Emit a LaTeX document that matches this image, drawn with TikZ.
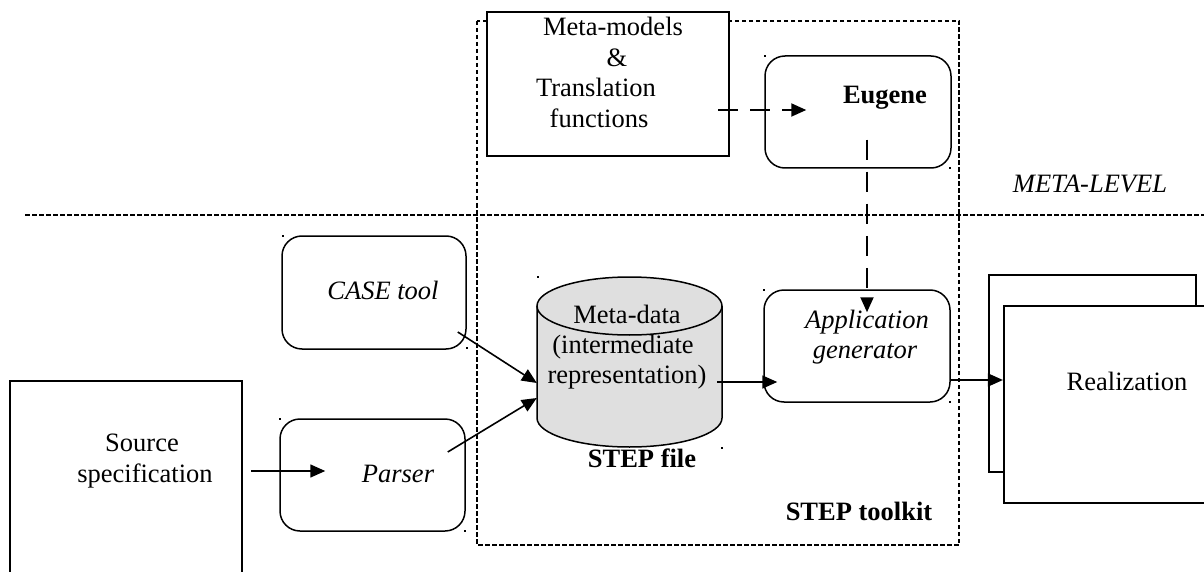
\documentclass[tikz,border=0pt]{standalone}
\usepackage{fontspec}
\setmainfont{Liberation Serif}
\usetikzlibrary{arrows.meta,calc}
\begin{document}
\begin{tikzpicture}[x=1pt,y=-1pt,
  txt/.style={font=\fontsize{26.5}{31}\selectfont, inner sep=0pt, anchor=base},
  sqbox/.style={draw, line width=2.4pt, minimum width=#1, inner sep=0pt},
  rbox/.style={draw, line width=1.5pt, rounded corners=20pt, inner sep=0pt},
  arr/.style={line width=1.6pt, -{Triangle[length=15pt,width=13pt]}},
  darr/.style={line width=1.9pt, dash pattern=on 20pt off 12pt, -{Triangle[length=15pt,width=13pt]}},
  toolkit/.style={line width=2.1pt, dash pattern=on 4.5pt off 2.5pt},
  sep/.style={line width=1.3pt, dash pattern=on 5pt off 2pt},
  dot/.style={fill=black}
]
\clip (0,0) rectangle (1204,572);
\fill[white] (0,0) rectangle (1204,572);

% STEP toolkit dashed frame
\coordinate (tkA) at (477,21);
\coordinate (tkB) at (959,545);
\draw[toolkit] (tkA) rectangle (tkB);

% META-LEVEL separator
\coordinate (sepL) at (25,215);
\coordinate (sepR) at (1204,215);
\draw[sep] (sepL) -- (sepR);
\node[txt, font=\fontsize{26.5}{31}\selectfont\itshape] (metalevel) at (1090,193) {META-LEVEL};

% Meta-models box
\node[sqbox=242pt, minimum height=144pt, fill=white] (mm) at (608,84) {};
\node[txt] (mm1) at (613,36) {Meta-models};
\node[txt] (mm2) at (617,67) {\&};
\node[txt] (mm3) at (596,97) {Translation};
\node[txt] (mm4) at (599,128) {functions};

% Eugene
\node[rbox, minimum width=186pt, minimum height=112pt] (eug) at (858,112) {};
\node[txt, font=\fontsize{26.5}{31}\selectfont\bfseries] (eugt) at (885,104) {Eugene};

% CASE tool
\node[rbox, minimum width=184pt, minimum height=113pt] (case) at (374,292.5) {};
\node[txt, font=\fontsize{26.5}{31}\selectfont\itshape] (caset) at (383,299) {CASE tool};

% Parser
\node[rbox, minimum width=185pt, minimum height=112pt] (parser) at (372.5,475) {};
\node[txt, font=\fontsize{26.5}{31}\selectfont\itshape] (parsert) at (398,482) {Parser};

% Source specification
\node[sqbox=232pt, minimum height=219pt] (src) at (126,490.5) {};
\node[txt] (src1) at (142,451) {Source};
\node[txt] (src2) at (145,482) {specification};

% Cylinder (STEP file)
\node[minimum width=185pt, minimum height=170pt, inner sep=0pt] (cyl) at (629.5,362) {};
\fill[gray!25] (537,306) -- (537,418) arc[start angle=180, end angle=360, x radius=92.5pt, y radius=29pt] -- (722,306) arc[start angle=0, end angle=180, x radius=92.5pt, y radius=29pt] -- cycle;
\draw[line width=1.5pt] (537,306) -- (537,418) arc[start angle=180, end angle=360, x radius=92.5pt, y radius=29pt] -- (722,306);
\draw[line width=1.5pt] (629.5,306) ellipse[x radius=92.5pt, y radius=29pt];
\node[txt] (cyl1) at (627,323) {Meta-data};
\node[txt] (cyl2) at (623,353) {(intermediate};
\node[txt] (cyl3) at (627,383) {representation)};
\node[txt, font=\fontsize{26.5}{31}\selectfont\bfseries] (stepfile) at (642,467) {STEP file};

% Application generator
\node[rbox, minimum width=186pt, minimum height=112pt] (app) at (857,346) {};
\node[txt, font=\fontsize{26.5}{31}\selectfont\itshape] (app1) at (867,328) {Application};
\node[txt, font=\fontsize{26.5}{31}\selectfont\itshape] (app2) at (865,358) {generator};

% Realization (two stacked sheets)
\node[draw, line width=2.2pt, minimum width=207pt, minimum height=197pt, inner sep=0pt] (realback) at (1092.5,373.5) {};
\node[draw, line width=2.2pt, fill=white, minimum width=210pt, minimum height=197pt, inner sep=0pt] (real) at (1109,404.5) {};
\node[txt] (realt) at (1127,390) {Realization};

% STEP toolkit label
\node[txt, font=\fontsize{26.5}{31}\selectfont\bfseries] (tklabel) at (859,520) {STEP toolkit};

% connectors
\draw[darr] ($(mm.east)+(-12,26)$) -- ($(eug.west)+(42,-2)$);
\draw[darr] ($(eug.south)+(9,-29)$) -- ($(app.north)+(10,23)$);
\draw[arr] ($(src.east)+(8,-19.5)$) -- ($(parser.west)+(46,-4)$);
\draw[arr] ($(case.east)+(-9,39.5)$) -- ($(cyl.west)+(0,21)$);
\draw[arr] ($(parser.east)+(-18,-23)$) -- ($(cyl.west)+(0,36)$);
\draw[arr] ($(cyl.east)+(-5,20)$) -- ($(app.west)+(14,36)$);
\draw[arr] ($(app.east)+(0,34)$) -- ($(real.west)+(0,-24.5)$);

% small corner marks
\foreach \p in {(282,235),(466,347),(279,418),(464,530),(764,55),(949,167),(537,276),(721,447),(763,289),(949,401)}
  \fill[dot] \p rectangle ++(2,2);
\end{tikzpicture}
\end{document}
